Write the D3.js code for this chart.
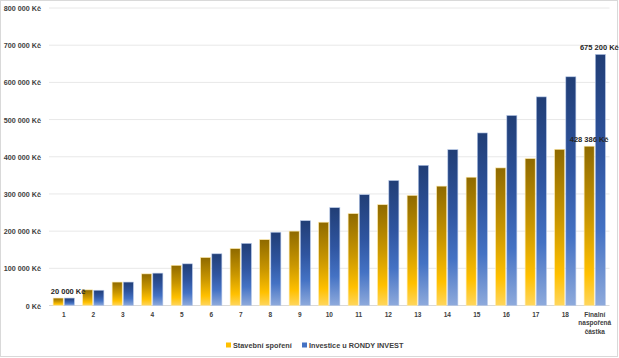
<!DOCTYPE html>
<html><head><meta charset="utf-8">
<script src="https://cdn.jsdelivr.net/npm/d3@7/dist/d3.min.js"></script>
<style>body{margin:0;background:#fff}svg{display:block}text{font-family:"Liberation Sans",Arial,sans-serif}</style>
</head><body><svg id="c" width="619" height="358"></svg>
<script>
const categories = ["1","2","3","4","5","6","7","8","9","10","11","12","13","14","15","16","17","18","Finalní naspořená částka"];
const stavebni = [20000,42000,63000,85000,108000,129000,153000,177000,200000,224000,247000,271000,296000,321000,345000,370000,395000,420000,428386];
const rondy = [20000,41000,63000,87000,112000,139000,167000,197000,228000,263000,298000,336000,377000,419000,464000,511000,561000,615000,675200];
const yTicks = [0,100000,200000,300000,400000,500000,600000,700000,800000];
const seriesNames = ["Stavební spoření","Investice u RONDY INVEST"];
const labels = [{s:0,i:0,text:"20 000 Kč"},{s:0,i:18,text:"428 386 Kč"},{s:1,i:18,text:"675 200 Kč"}];

const svg = d3.select("#c");
const fmt = v => d3.format(",")(v).replace(/,/g," ") + " Kč";
svg.append("rect").attr("x",0.5).attr("y",0.5).attr("width",617).attr("height",356).attr("fill","#fff").attr("stroke","#d9d9d9");

const defs = svg.append("defs");
const g1 = defs.append("linearGradient").attr("id","gGold").attr("x1",0).attr("y1",0).attr("x2",0).attr("y2",1);
[[0,"#8f6a00"],[0.45,"#c99600"],[0.8,"#ffc000"],[1,"#ffd65c"]].forEach(d=>g1.append("stop").attr("offset",d[0]).attr("stop-color",d[1]));
const g2 = defs.append("linearGradient").attr("id","gBlue").attr("x1",0).attr("y1",0).attr("x2",0).attr("y2",1);
[[0,"#213e76"],[0.4,"#2f55a0"],[0.7,"#4472c4"],[1,"#8eaadc"]].forEach(d=>g2.append("stop").attr("offset",d[0]).attr("stop-color",d[1]));

const x = d3.scaleBand().domain(categories).range([49,609.5]).paddingInner(0.28).paddingOuter(0.14);
const xs = d3.scaleBand().domain([0,1]).range([0,x.bandwidth()]).paddingInner(0.1);
const y = d3.scaleLinear().domain([0,800000]).range([305.5,8]);

svg.append("g").selectAll("line").data(yTicks).join("line")
  .attr("x1",49).attr("x2",609.5).attr("y1",d=>y(d)).attr("y2",d=>y(d))
  .attr("stroke",(d)=>d===0?"#d9d9d9":"#e8e8e8").attr("stroke-width",1);

const yAxis = d3.axisLeft(y).tickValues(yTicks).tickFormat(fmt).tickSize(0).tickPadding(0);
const ya = svg.append("g").attr("transform","translate(41,0)").call(yAxis);
ya.select(".domain").remove();
ya.selectAll("text").attr("font-size",7.2).attr("font-weight","bold").attr("fill","#404040").attr("dy","0.35em");

const series = [stavebni, rondy];
const fills = ["url(#gGold)","url(#gBlue)"];
series.forEach((vals,s)=>{
  svg.append("g").selectAll("rect").data(vals).join("rect")
    .attr("x",(d,i)=>x(categories[i])+xs(s)).attr("width",xs.bandwidth())
    .attr("y",d=>y(d)).attr("height",d=>y(0)-y(d))
    .attr("fill",fills[s]).attr("stroke",s===0?"#ffe9a8":"#b4c6e7").attr("stroke-width",0.6);
});

// the first label sits shifted to the right in the original (manually moved)
const labelShift = [10, 0, -1];
labels.forEach((l,k)=>{
  const v = series[l.s][l.i];
  svg.append("text").attr("x",x(categories[l.i])+xs(l.s)+xs.bandwidth()/2+labelShift[k]).attr("y",y(v)-4.5)
    .attr("text-anchor","middle").attr("font-size",7.5).attr("font-weight","bold").attr("fill","#262626").text(l.text);
});

const xg = svg.append("g");
categories.forEach(c=>{
  const words = c.split(" ");
  const t = xg.append("text").attr("x",x(c)+x.bandwidth()/2).attr("y",317)
    .attr("text-anchor","middle").attr("font-size",6.5).attr("font-weight","bold").attr("fill","#404040");
  words.forEach((w,k)=>t.append("tspan").attr("x",x(c)+x.bandwidth()/2).attr("dy",k===0?0:"1.3em").text(w));
});

const leg = svg.append("g");
const legColors = ["#ffc000","#4472c4"];
const legX = [226,302];
seriesNames.forEach((n,i)=>{
  leg.append("rect").attr("x",legX[i]).attr("y",342.5).attr("width",5).attr("height",5).attr("fill",legColors[i]);
  leg.append("text").attr("x",legX[i]+7).attr("y",348).attr("font-size",7.3).attr("font-weight","bold").attr("fill","#404040").text(n);
});
</script></body></html>
